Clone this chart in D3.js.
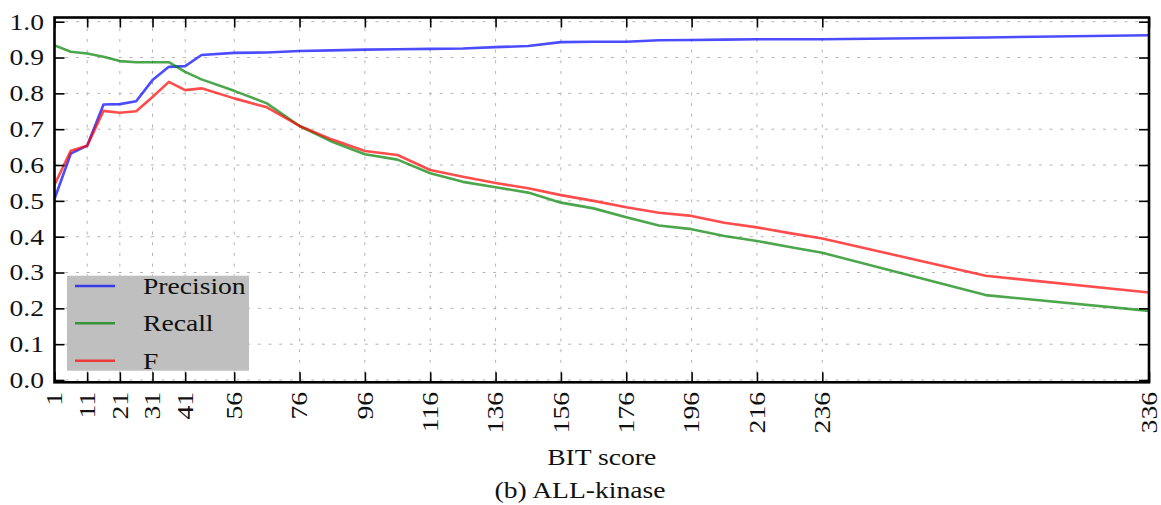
<!DOCTYPE html>
<html>
<head>
<meta charset="utf-8">
<script src="https://cdn.jsdelivr.net/npm/d3@7"></script>
<style>
  html, body { margin: 0; padding: 0; background: #fff; }
  svg { display: block; }
  text { font-family: "Liberation Serif", "Times New Roman", serif; fill: #111; }
</style>
</head>
<body>
<svg id="chart" width="1161" height="505"></svg>
<script>
// BIT score thresholds and the scores measured at each one
const bitScores = [1, 6, 11, 16, 21, 26, 31, 36, 41, 46, 56, 66, 76, 86, 96, 106, 116, 126, 136, 146, 156, 166, 176, 186, 196, 206, 216, 226, 236, 286, 336];
const precision = [0.505, 0.632, 0.654, 0.769, 0.770, 0.778, 0.837, 0.874, 0.876, 0.907, 0.913, 0.914, 0.918, 0.920, 0.922, 0.923, 0.924, 0.925, 0.929, 0.932, 0.943, 0.944, 0.944, 0.948, 0.949, 0.950, 0.951, 0.951, 0.951, 0.956, 0.962];
const recall    = [0.934, 0.916, 0.911, 0.902, 0.890, 0.887, 0.887, 0.887, 0.860, 0.839, 0.807, 0.772, 0.709, 0.665, 0.630, 0.615, 0.577, 0.553, 0.538, 0.523, 0.495, 0.479, 0.454, 0.431, 0.421, 0.402, 0.388, 0.371, 0.355, 0.237, 0.193];
const fScore    = [0.545, 0.640, 0.654, 0.751, 0.746, 0.750, 0.790, 0.832, 0.809, 0.814, 0.786, 0.761, 0.709, 0.671, 0.639, 0.628, 0.586, 0.567, 0.550, 0.535, 0.516, 0.500, 0.482, 0.467, 0.458, 0.439, 0.426, 0.410, 0.395, 0.291, 0.244];

const xTickValues = [1, 11, 21, 31, 41, 56, 76, 96, 116, 136, 156, 176, 196, 216, 236, 336];
const yTickValues = [0.0, 0.1, 0.2, 0.3, 0.4, 0.5, 0.6, 0.7, 0.8, 0.9, 1.0];

const seriesNames = ["Precision", "Recall", "F"];
const seriesColors = ["#0000ff", "#008000", "#ff0000"];
const seriesValues = [precision, recall, fScore];

const svg = d3.select("#chart");
const plotLeft = 54.5, plotRight = 1149, plotTop = 17.5, plotBottom = 382.3;
const fontSize = 23, stretch = 1.2;

const x = d3.scaleLinear().domain([1, 336]).range([plotLeft, plotRight]);
const y = d3.scaleLinear().domain([-0.0064, 1.0117]).range([plotBottom, plotTop]);

// places a wide serif label: position, optional rotation, then horizontal stretch
function label(parent, px, py, str, anchor, rotate, dy) {
  const rot = rotate ? ` rotate(${rotate})` : "";
  return parent.append("text")
    .attr("transform", `translate(${px},${py})${rot} scale(${stretch},1)`)
    .attr("text-anchor", anchor)
    .attr("dy", dy || 0)
    .attr("font-size", fontSize)
    .text(str);
}

// dotted grid
const grid = svg.append("g");
grid.selectAll(".gx").data(xTickValues).join("line")
  .attr("x1", d => x(d)).attr("x2", d => x(d))
  .attr("y1", plotTop).attr("y2", plotBottom)
  .attr("stroke", "#b4b4b4").attr("stroke-width", 1).attr("stroke-dasharray", "3,7.7");
grid.selectAll(".gy").data(yTickValues).join("line")
  .attr("x1", plotLeft).attr("x2", plotRight)
  .attr("y1", d => y(d)).attr("y2", d => y(d))
  .attr("stroke", "#b4b4b4").attr("stroke-width", 1).attr("stroke-dasharray", "3,7.7");

// series lines
const line = d3.line().x((d, i) => x(bitScores[i])).y(d => y(d));
const plot = svg.append("g");
seriesValues.forEach((vals, k) => {
  plot.append("path")
    .datum(vals)
    .attr("d", line)
    .attr("fill", "none")
    .attr("stroke", seriesColors[k])
    .attr("stroke-opacity", 0.7)
    .attr("stroke-width", 2.6)
    .attr("stroke-linejoin", "round");
});

// axes with inward ticks on all four sides
const axisStyle = g => {
  g.select(".domain").remove();
  g.selectAll(".tick line").attr("stroke", "#000").attr("stroke-width", 1.6);
};
svg.append("g").attr("transform", `translate(0,${plotBottom})`)
  .call(d3.axisBottom(x).tickValues(xTickValues).tickSizeInner(-10).tickSizeOuter(0).tickFormat(""))
  .call(axisStyle);
svg.append("g").attr("transform", `translate(0,${plotTop})`)
  .call(d3.axisTop(x).tickValues(xTickValues).tickSizeInner(-10).tickSizeOuter(0).tickFormat(""))
  .call(axisStyle);
svg.append("g").attr("transform", `translate(${plotLeft},0)`)
  .call(d3.axisLeft(y).tickValues(yTickValues).tickSizeInner(-10).tickSizeOuter(0).tickFormat(""))
  .call(axisStyle);
svg.append("g").attr("transform", `translate(${plotRight},0)`)
  .call(d3.axisRight(y).tickValues(yTickValues).tickSizeInner(-10).tickSizeOuter(0).tickFormat(""))
  .call(axisStyle);

// frame
svg.append("rect")
  .attr("x", plotLeft).attr("y", plotTop)
  .attr("width", plotRight - plotLeft).attr("height", plotBottom - plotTop)
  .attr("fill", "none").attr("stroke", "#000").attr("stroke-width", 2.6);

// tick labels
const yLabels = svg.append("g");
yTickValues.forEach(v => label(yLabels, 44, y(v), v.toFixed(1), "end", 0, "0.34em"));

const xLabels = svg.append("g");
xTickValues.forEach(v => label(xLabels, x(v), 392, String(v), "end", -90, "0.34em"));

// axis title and caption
label(svg, (plotLeft + plotRight) / 2, 465, "BIT score", "middle");
label(svg, 580, 498, "(b) ALL-kinase", "middle");

// legend
const legend = svg.append("g");
legend.append("rect")
  .attr("x", 67).attr("y", 275.7).attr("width", 182).attr("height", 95)
  .attr("fill", "#bfbfbf");
const legendRows = [286, 323.3, 360.7];
seriesNames.forEach((name, k) => {
  legend.append("line")
    .attr("x1", 75).attr("x2", 115)
    .attr("y1", legendRows[k]).attr("y2", legendRows[k])
    .attr("stroke", seriesColors[k]).attr("stroke-opacity", 0.7).attr("stroke-width", 2.6);
  label(legend, 143, legendRows[k], name, "start", 0, "0.34em");
});
</script>
</body>
</html>
